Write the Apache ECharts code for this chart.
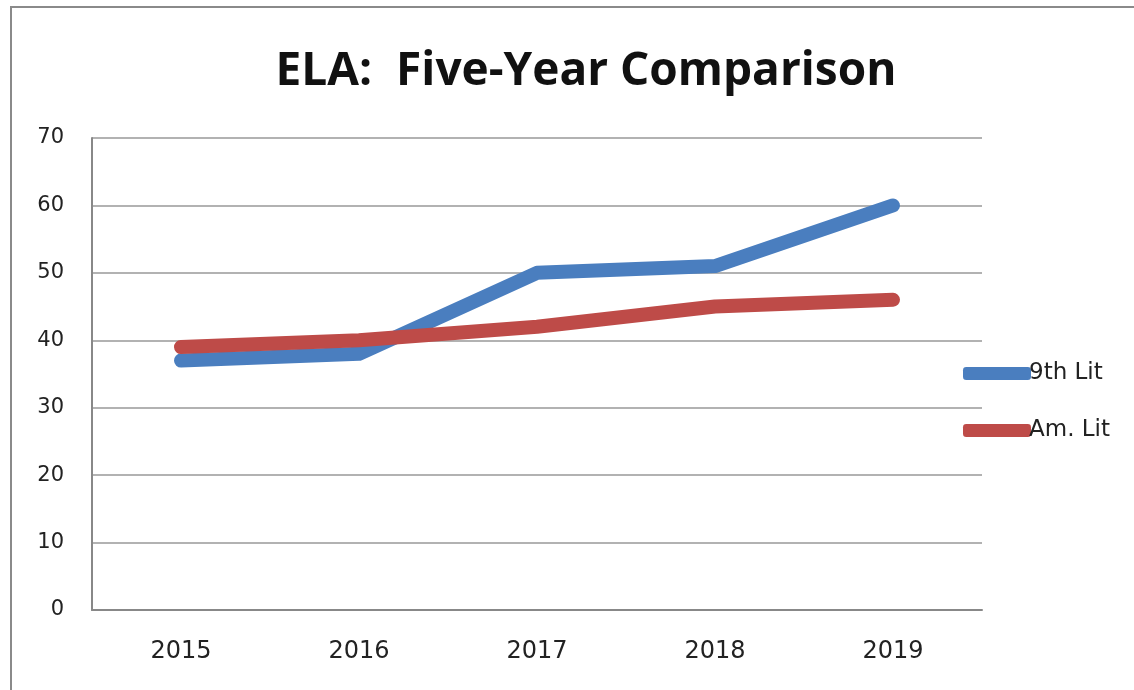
<!DOCTYPE html>
<html>
<head>
<meta charset="utf-8">
<script src="https://cdn.jsdelivr.net/npm/echarts@6/dist/echarts.min.js"></script>
<style>
  html, body { margin: 0; padding: 0; background: #fff; }
  #frame {
    position: absolute; left: 10px; top: 6px; width: 1124px; height: 684px;
    border-top: 2px solid #8a8a8a; border-left: 2px solid #8a8a8a;
  }
  #chart { position: absolute; left: 0; top: 0; width: 1134px; height: 690px; }
</style>
</head>
<body>
<div id="frame"></div>
<div id="chart"></div>
<script>
// categories and values
var years = ['2015', '2016', '2017', '2018', '2019'];
var ninthLit = [37, 38, 50, 51, 60];
var amLit = [39, 40, 42, 45, 46];
var seriesNames = ['9th Lit', 'Am. Lit'];

var myChart = echarts.init(document.getElementById('chart'));

var option = {
  animation: false,
  title: {
    text: 'ELA:  Five-Year Comparison',
    left: 581,
    textAlign: 'center',
    top: 44,
    textStyle: {
      fontFamily: 'Open Sans',
      fontWeight: 'bold',
      fontSize: 46,
      color: '#111'
    }
  },
  legend: {
    orient: 'vertical',
    left: 958,
    top: 357,
    itemGap: 34,
    itemWidth: 68,
    itemHeight: 13,
    icon: 'roundRect',
    data: seriesNames,
    textStyle: { fontFamily: 'DejaVu Sans', fontSize: 23, color: '#222', padding: [0, 0, 0, -7] }
  },
  grid: { left: 92, right: 152, top: 138, bottom: 80 },
  xAxis: {
    type: 'category',
    data: years,
    boundaryGap: true,
    axisLine: { lineStyle: { color: '#888', width: 2 } },
    axisTick: { show: false },
    axisLabel: { fontFamily: 'DejaVu Sans', fontSize: 24, color: '#222', margin: 30 }
  },
  yAxis: {
    type: 'value',
    min: 0,
    max: 70,
    interval: 10,
    axisLine: { show: true, lineStyle: { color: '#888', width: 2 } },
    axisTick: { show: false },
    splitLine: { lineStyle: { color: '#999', width: 1.5 } },
    axisLabel: { fontFamily: 'DejaVu Sans', fontSize: 21, color: '#222', margin: 28 }
  },
  series: [
    {
      name: seriesNames[0],
      type: 'line',
      data: ninthLit,
      showSymbol: false,
      color: '#4A7EBF',
      lineStyle: { width: 14, cap: 'round', join: 'round' }
    },
    {
      name: seriesNames[1],
      type: 'line',
      data: amLit,
      showSymbol: false,
      color: '#BE4B48',
      lineStyle: { width: 14, cap: 'round', join: 'round' }
    }
  ]
};

myChart.setOption(option);
window.addEventListener('resize', function () {
  myChart.resize();
});
</script>
</body>
</html>
